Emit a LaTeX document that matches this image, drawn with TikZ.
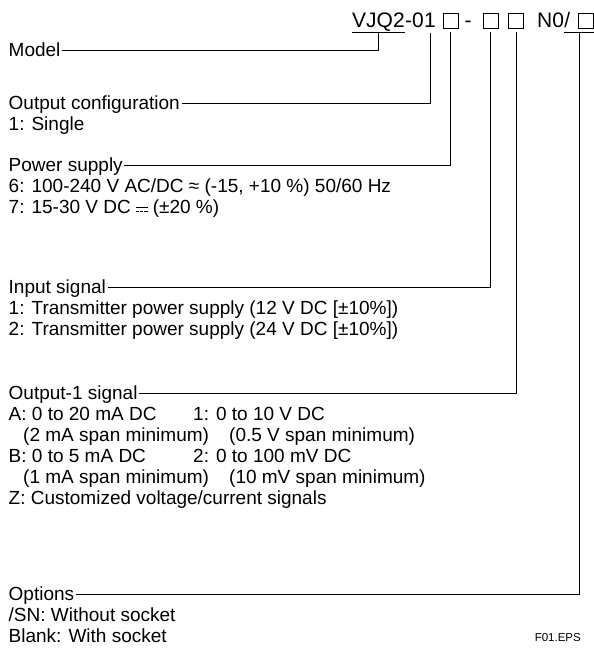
\documentclass[tikz,border=0pt]{standalone}
\usepackage{fontspec}
\setmainfont{Liberation Sans}
\usetikzlibrary{positioning}

% direct current sign: solid bar over a dashed bar
\newcommand{\dcsign}{\raisebox{0.1em}{\rlap{\rule[0.22em]{0.6em}{0.06em}}\rule{0.16em}{0.06em}\hspace{0.06em}\rule{0.16em}{0.06em}\hspace{0.06em}\rule{0.16em}{0.06em}}}

\begin{document}
\begin{tikzpicture}[
  x=1pt, y=-1pt,
  every node/.style={text=black, inner sep=0pt},
  lbl/.style={anchor=base west, font=\fontsize{19}{21}\selectfont, text height=13.5pt, text depth=0pt, inner xsep=1.5pt},
  txt/.style={anchor=base west, font=\fontsize{19}{21}\selectfont},
  hdr/.style={anchor=base west, font=\fontsize{21}{24}\selectfont},
  codebox/.style={draw, line width=0.7pt, minimum size=15pt},
  conn/.style={line width=0.8pt},
]

\useasboundingbox (0,0) rectangle (594,648);

% Model code
\node[hdr] (vjq) at (352,27) {VJQ2};
\node[hdr] (zero) at (vjq.base east) {-0};
\node[hdr] (one) at (zero.base east) {1};
\node[codebox] (box1) at (450.5,20.5) {};
\node[hdr, anchor=base] (dash) at (468,27) {-};
\node[codebox] (box2) at (490.5,20.5) {};
\node[codebox] (box3) at (516,20.5) {};
\node[hdr] (nzero) at (537,27) {N0};
\node[hdr] (slash) at (nzero.base east) {/};
\node[codebox] (box4) at (585.5,20.5) {};

% underlines
\draw[conn] ([yshift=-5pt]vjq.base west) -- ([yshift=-5pt]vjq.base east);
\draw[conn] ([yshift=-5pt]slash.base west) -- ++(30,0) coordinate[pos=0.5] (optmid);

% Model
\node[lbl] (model) at (7,56.75) {Model};

% Output configuration
\node[lbl] (outcfg) at (7,109.75) {Output configuration};
\node[txt] (cfg1) at (8.5,130.75) {1: Single};

% Power supply
\node[lbl] (power) at (7,171.75) {Power supply};
\node[txt] (pw6) at (8.5,192.75) {6: 100-240 V AC/DC ≈ (-15, +10 \%) 50/60 Hz};
\node[txt] (pw7) at (8.5,213.75) {7: 15-30 V DC \dcsign{} (±20 \%)};

% Input signal
\node[lbl] (input) at (7,293.75) {Input signal};
\node[txt] (in1) at (8.5,314.75) {1: Transmitter power supply (12 V DC [±10\%])};
\node[txt] (in2) at (8.5,335.75) {2: Transmitter power supply (24 V DC [±10\%])};

% Output-1 signal
\node[lbl] (output) at (7,399.75) {Output-1 signal};
\node[txt] (outA) at (8.5,420.75) {A: 0 to 20 mA DC};
\node[txt] (outV1) at (193,420.75) {1: 0 to 10 V DC};
\node[txt] (outA2) at (23,441.75) {(2 mA span minimum)};
\node[txt] (outV2) at (229,441.75) {(0.5 V span minimum)};
\node[txt] (outB) at (8.5,462.75) {B: 0 to 5 mA DC};
\node[txt] (outV3) at (193,462.75) {2: 0 to 100 mV DC};
\node[txt] (outB2) at (23,483.75) {(1 mA span minimum)};
\node[txt] (outV4) at (229,483.75) {(10 mV span minimum)};
\node[txt] (outZ) at (8.5,504.75) {Z: Customized voltage/current signals};

% Options
\node[lbl] (options) at (7,600.75) {Options};
\node[txt] (optSN) at (8.5,621.75) {/SN: Without socket};
\node[txt] (optBl) at (8.5,642.75) {Blank: With socket};

\node[anchor=base east, font=\fontsize{11.5}{14}\selectfont] (figno) at (581,641) {F01.EPS};

% leader lines
\draw[conn] (model.east) -| ([yshift=-5pt]vjq.base);
\draw[conn] (outcfg.east) -| ([yshift=-6pt]one.base);
\draw[conn] (power.east) -| ([yshift=-4pt]box1.south);
\draw[conn] (input.east) -| ([yshift=-4pt]box2.south);
\draw[conn] (output.east) -| ([yshift=-4pt]box3.south);
\draw[conn] (options.east) -| (optmid);

\end{tikzpicture}
\end{document}
